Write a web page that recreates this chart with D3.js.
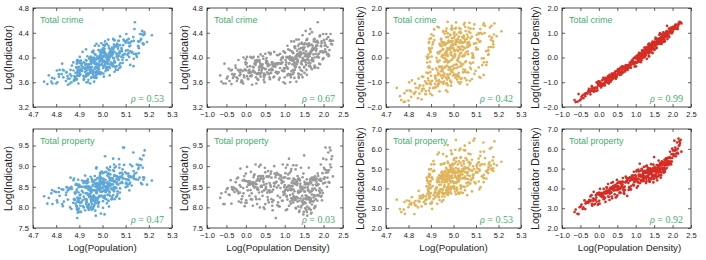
<!DOCTYPE html>
<html>
<head>
<meta charset="utf-8"/>
<title>Crime scaling scatter</title>
<style>
  body { margin: 0; background: #fff; }
  svg text { font-family: "Liberation Sans", Arial, Helvetica, sans-serif; }
</style>
</head>
<body>
<svg id="chart" width="706" height="260"></svg>
<script src="https://cdn.jsdelivr.net/npm/d3@7"></script>
<script>
// one entry per city, ordered by density band
const logDensity = [
  -0.66,-0.58,-0.63,-0.52,-0.47,-0.55,-0.42,-0.49,-0.39,-0.44,
  -0.37,-0.33,-0.29,-0.35,-0.24,-0.31,-0.27,-0.23,-0.36,-0.26,
  -0.21,-0.12,-0.18,-0.15,-0.20,-0.11,-0.16,-0.13,-0.19,-0.14,
  -0.09,-0.03,-0.07,-0.01,-0.05,-0.08,-0.02,-0.06,-0.04,0.00,
  0.01,0.05,0.03,0.07,0.02,0.06,0.00,0.04,0.08,0.03,
  0.09,0.13,0.11,0.15,0.08,0.12,0.14,0.10,0.13,0.11,
  0.16,0.20,0.18,0.21,0.15,0.19,0.17,0.22,0.18,0.20,
  0.23,0.27,0.25,0.29,0.22,0.26,0.28,0.24,0.27,0.25,
  0.30,0.34,0.32,0.29,0.33,0.31,0.35,0.30,0.34,0.32,
  0.36,0.40,0.38,0.41,0.35,0.39,0.37,0.40,0.36,0.38,
  0.42,0.46,0.44,0.47,0.41,0.45,0.43,0.46,0.44,0.42,
  0.48,0.52,0.50,0.54,0.47,0.51,0.53,0.49,0.52,0.50,
  0.55,0.59,0.57,0.61,0.54,0.58,0.60,0.56,0.59,0.57,
  0.62,0.66,0.64,0.68,0.61,0.65,0.67,0.63,0.66,0.64,
  0.69,0.73,0.71,0.75,0.68,0.72,0.74,0.70,0.76,0.73,
  0.77,0.81,0.79,0.83,0.76,0.80,0.82,0.78,0.84,0.80,
  0.85,0.89,0.87,0.91,0.84,0.88,0.90,0.86,0.92,0.88,
  0.93,0.97,0.95,0.99,0.92,0.96,0.98,0.94,0.97,0.95,
  1.00,1.03,1.01,1.05,0.99,1.02,1.04,1.00,1.03,1.01,
  1.06,1.09,1.07,1.10,1.05,1.08,1.09,1.06,1.08,1.07,
  1.11,1.14,1.12,1.15,1.10,1.13,1.14,1.11,1.13,1.12,
  1.16,1.19,1.17,1.20,1.15,1.18,1.19,1.16,1.18,1.17,
  1.21,1.23,1.22,1.24,1.20,1.22,1.23,1.21,1.24,1.22,
  1.25,1.27,1.26,1.28,1.24,1.26,1.27,1.25,1.28,1.26,
  1.29,1.31,1.30,1.32,1.28,1.30,1.31,1.29,1.32,1.30,
  1.33,1.35,1.34,1.36,1.32,1.34,1.35,1.33,1.36,1.34,
  1.37,1.39,1.38,1.40,1.36,1.38,1.39,1.37,1.40,1.38,
  1.41,1.43,1.42,1.44,1.40,1.42,1.43,1.41,1.44,1.42,
  1.45,1.47,1.46,1.48,1.44,1.46,1.47,1.45,1.48,1.46,
  1.49,1.51,1.50,1.52,1.48,1.50,1.51,1.49,1.52,1.50,
  1.53,1.55,1.54,1.56,1.52,1.54,1.55,1.53,1.56,1.54,
  1.57,1.59,1.58,1.60,1.56,1.58,1.59,1.57,1.60,1.58,
  1.61,1.63,1.62,1.64,1.60,1.62,1.63,1.61,1.64,1.62,
  1.65,1.67,1.66,1.68,1.64,1.66,1.67,1.65,1.68,1.66,
  1.69,1.71,1.70,1.72,1.68,1.70,1.71,1.69,1.72,1.70,
  1.73,1.76,1.74,1.77,1.72,1.75,1.76,1.73,1.77,1.75,
  1.78,1.81,1.79,1.82,1.77,1.80,1.81,1.78,1.82,1.80,
  1.83,1.86,1.84,1.88,1.82,1.85,1.87,1.84,1.86,1.85,
  1.89,1.93,1.91,1.95,1.88,1.92,1.94,1.90,1.93,1.91,
  1.96,2.00,1.98,2.02,1.95,1.99,2.01,1.97,2.03,1.99,
  2.04,2.09,2.06,2.11,2.03,2.08,2.10,2.05,2.12,2.07,
  2.13,2.19,2.15,2.22,2.14,2.17,2.20,2.16,2.24,2.18
];

const logPopulation = [
  4.768,4.784,4.779,4.800,4.812,4.826,4.842,4.858,4.875,4.905,
  4.762,4.782,4.811,4.824,4.831,4.849,4.868,4.877,4.897,4.938,
  4.792,4.805,4.833,4.844,4.862,4.877,4.891,4.911,4.928,4.973,
  4.748,4.829,4.859,4.874,4.895,4.912,4.929,4.948,4.967,5.028,
  4.803,4.850,4.866,4.884,4.902,4.920,4.934,4.955,4.975,5.033,
  4.815,4.879,4.899,4.918,4.932,4.950,4.968,4.989,5.016,5.061,
  4.851,4.887,4.904,4.925,4.935,4.958,4.978,4.990,5.021,5.082,
  4.845,4.896,4.919,4.935,4.950,4.970,4.988,5.008,5.036,5.073,
  4.889,4.917,4.939,4.955,4.972,4.986,5.006,5.025,5.058,5.115,
  4.860,4.900,4.920,4.944,4.960,4.978,4.998,5.016,5.050,5.093,
  4.888,4.919,4.937,4.959,4.976,4.990,5.011,5.031,5.062,5.120,
  4.866,4.907,4.929,4.949,4.967,4.985,4.999,5.019,5.051,5.098,
  4.897,4.932,4.951,4.973,4.988,5.004,5.023,5.042,5.074,5.134,
  4.880,4.923,4.944,4.964,4.978,4.996,5.014,5.035,5.066,5.112,
  4.894,4.928,4.952,4.971,4.985,5.005,5.023,5.044,5.078,5.128,
  4.891,4.939,4.961,4.979,4.995,5.013,5.033,5.052,5.087,5.146,
  4.887,4.927,4.951,4.966,4.986,5.003,5.022,5.042,5.077,5.135,
  4.896,4.937,4.960,4.975,4.993,5.013,5.031,5.051,5.084,5.148,
  4.883,4.925,4.947,4.964,4.982,5.000,5.020,5.039,5.073,5.126,
  4.890,4.938,4.960,4.978,4.996,5.016,5.034,5.055,5.089,5.154,
  4.889,4.931,4.952,4.971,4.988,5.006,5.026,5.046,5.083,5.135,
  4.884,4.931,4.953,4.973,4.991,5.008,5.029,5.050,5.086,5.154,
  4.903,4.947,4.968,4.987,5.006,5.023,5.043,5.065,5.101,5.156,
  4.881,4.930,4.952,4.972,4.990,5.008,5.028,5.050,5.087,5.154,
  4.898,4.942,4.964,4.984,5.002,5.020,5.041,5.063,5.101,5.166,
  4.891,4.933,4.954,4.974,4.992,5.010,5.031,5.054,5.091,5.145,
  4.897,4.948,4.969,4.988,5.006,5.026,5.045,5.067,5.108,5.177,
  4.893,4.939,4.960,4.979,4.997,5.017,5.038,5.060,5.100,5.157,
  4.896,4.942,4.963,4.982,5.000,5.020,5.041,5.063,5.104,5.176,
  4.907,4.951,4.972,4.991,5.009,5.029,5.050,5.073,5.115,5.177,
  4.890,4.941,4.962,4.981,4.999,5.019,5.040,5.062,5.106,5.171,
  4.904,4.950,4.971,4.990,5.008,5.028,5.049,5.072,5.116,5.166,
  4.892,4.938,4.959,4.978,4.996,5.016,5.037,5.059,5.103,5.174,
  4.909,4.953,4.974,4.993,5.011,5.031,5.052,5.075,5.119,5.138,
  4.893,4.944,4.965,4.984,5.002,5.022,5.043,5.065,5.109,5.180,
  4.900,4.947,4.968,4.987,5.005,5.025,5.046,5.069,5.113,5.160,
  4.915,4.961,4.982,5.001,5.019,5.039,5.060,5.082,5.126,5.192,
  4.902,4.946,4.967,4.986,5.004,5.024,5.045,5.068,5.112,5.140,
  4.911,4.955,4.976,4.995,5.013,5.033,5.054,5.076,5.120,5.213,
  4.914,4.954,4.974,4.993,5.011,5.031,5.052,5.075,5.119,5.162,
  4.929,4.969,4.989,5.008,5.026,5.046,5.067,5.089,5.133,5.169,
  4.935,4.974,4.992,5.011,5.031,5.050,5.071,5.093,5.135,5.182
];

const logCrime = [
  3.71,3.58,3.61,3.58,3.69,3.90,3.62,3.66,3.79,3.82,
  3.57,3.67,3.73,3.73,3.68,3.70,3.87,3.62,3.80,3.83,
  3.66,3.60,3.79,3.76,3.80,3.63,3.71,3.80,3.96,3.73,
  3.61,3.80,3.58,3.92,3.71,3.78,3.81,4.00,3.68,3.97,
  3.79,3.66,3.70,3.75,3.91,3.65,3.89,3.85,3.77,4.01,
  3.80,3.70,3.70,3.70,3.79,4.01,3.76,3.75,4.00,3.86,
  3.56,3.84,3.78,3.77,3.71,3.79,3.99,3.76,3.85,4.01,
  3.76,3.58,3.92,3.73,3.90,3.68,3.74,3.95,3.92,3.88,
  3.65,3.84,3.64,3.96,3.75,3.74,3.93,3.95,3.80,4.01,
  3.73,3.76,3.69,3.80,3.96,3.75,3.90,3.85,3.86,4.05,
  3.84,3.64,3.83,3.74,3.83,3.98,3.89,3.71,4.02,3.88,
  3.60,3.91,3.72,3.94,3.68,3.81,3.99,3.82,3.95,4.06,
  3.76,3.73,3.90,3.68,3.94,3.74,3.80,3.88,4.08,3.86,
  3.65,3.82,3.75,3.92,3.88,3.75,3.92,4.05,3.80,4.07,
  3.80,3.69,3.68,3.89,3.89,3.86,3.90,3.86,3.85,4.09,
  3.76,3.74,3.76,3.76,3.88,3.91,3.89,3.77,4.04,4.04,
  3.64,3.90,3.67,3.90,3.76,3.83,3.96,3.91,3.91,4.06,
  3.79,3.60,3.99,3.78,3.99,3.78,3.83,3.92,4.10,4.01,
  3.68,3.88,3.58,4.00,3.82,3.96,3.92,4.08,3.83,4.08,
  3.84,3.73,3.71,3.73,4.01,3.82,4.13,3.84,4.00,4.19,
  3.90,3.60,3.91,3.71,4.00,4.02,3.96,3.99,4.12,3.98,
  3.68,3.95,3.78,3.89,3.73,4.10,4.00,3.99,3.96,4.26,
  3.73,3.76,3.95,3.93,4.09,3.80,3.89,3.99,4.26,4.07,
  3.67,3.84,3.80,3.98,3.96,3.86,4.15,4.17,3.91,4.18,
  3.85,3.89,3.61,3.98,4.01,3.98,4.03,4.02,4.11,4.29,
  3.94,3.74,3.95,3.67,4.05,4.19,4.03,3.92,4.29,4.06,
  3.73,4.01,3.84,4.03,3.69,4.06,4.08,4.14,4.04,4.22,
  3.80,3.72,4.08,3.89,4.09,3.91,4.06,4.06,4.24,4.15,
  3.78,3.98,3.68,4.12,3.94,3.99,4.16,4.22,3.96,4.36,
  3.95,3.75,3.84,3.96,4.14,3.85,4.16,4.07,4.23,4.21,
  3.95,3.88,3.92,3.80,4.02,4.22,4.10,4.06,4.28,4.43,
  3.72,3.97,3.97,4.01,4.02,4.03,4.21,4.03,4.18,4.30,
  3.91,3.86,3.95,4.02,4.06,4.04,4.03,4.20,4.38,4.23,
  3.87,3.84,3.91,4.09,4.07,4.06,4.09,4.20,4.10,4.46,
  3.96,3.99,3.81,4.19,4.11,3.95,4.13,4.21,4.12,4.41,
  3.94,3.84,4.05,3.87,4.15,4.29,4.13,3.96,4.30,4.26,
  3.84,4.11,3.84,4.14,4.00,4.06,4.18,4.15,4.26,4.25,
  4.01,3.83,4.19,4.00,4.20,4.02,4.06,4.27,4.24,4.57,
  3.90,4.09,3.89,4.23,4.06,4.10,4.18,4.34,4.19,4.36,
  4.09,3.99,3.97,4.09,4.26,4.08,4.28,4.10,4.24,4.38,
  4.13,4.05,4.09,4.06,4.19,4.30,4.17,4.20,4.33,4.38,
  4.02,4.22,4.12,4.21,4.04,4.28,4.27,4.27,4.27,4.38
];

const logProperty = [
  8.23,8.08,8.34,8.37,8.47,8.08,8.30,8.44,8.66,8.31,
  8.09,8.42,8.37,8.44,8.43,8.48,8.45,8.70,8.49,8.61,
  8.39,8.12,8.14,8.36,8.72,8.20,8.54,8.50,8.34,8.94,
  8.27,8.03,8.47,8.11,8.67,8.65,8.64,8.34,8.76,8.82,
  8.17,8.41,8.50,8.55,8.11,8.63,8.64,8.63,8.56,8.98,
  8.28,8.20,8.55,8.59,8.58,8.42,8.58,8.63,8.86,8.61,
  8.19,8.57,8.04,8.77,8.34,8.52,8.57,8.80,8.61,8.73,
  8.49,8.20,8.26,8.48,8.48,8.56,8.65,8.60,8.56,9.04,
  8.43,8.36,8.43,8.08,8.67,8.70,8.64,8.46,8.99,8.75,
  8.00,8.53,8.50,8.50,8.20,8.71,8.68,8.51,8.76,9.03,
  8.38,8.00,8.68,8.55,8.50,8.62,8.28,8.71,8.76,8.76,
  7.96,8.50,8.08,8.74,8.41,8.46,8.57,8.96,8.44,8.85,
  8.36,8.12,8.18,8.41,8.75,8.40,8.76,8.25,8.74,8.88,
  8.36,8.20,8.50,8.04,8.59,8.87,8.38,8.54,8.72,8.82,
  7.93,8.51,8.17,8.58,8.13,8.59,8.82,8.43,8.73,9.00,
  7.74,8.05,8.62,8.12,8.60,8.48,8.28,8.78,8.80,8.84,
  8.03,8.47,8.02,8.66,8.53,8.24,8.77,8.70,8.59,8.77,
  8.16,8.30,8.16,8.38,8.72,8.37,8.72,8.63,8.62,9.04,
  8.33,7.93,8.41,8.26,8.49,8.83,8.44,8.54,8.96,8.73,
  7.95,8.51,8.19,8.52,8.28,8.41,8.80,8.49,8.70,9.03,
  8.04,8.14,8.44,8.42,8.52,8.52,8.30,9.18,8.84,8.70,
  8.09,8.18,8.22,8.52,8.46,8.42,8.51,8.88,8.59,8.93,
  8.22,8.27,8.12,8.26,8.64,8.44,8.70,8.33,8.68,9.02,
  8.18,8.20,8.23,8.18,8.59,8.60,8.56,8.39,8.92,8.67,
  7.97,8.25,8.25,8.54,7.99,8.58,8.64,8.57,8.58,9.02,
  8.14,8.02,8.38,8.35,8.60,8.22,8.36,8.76,8.70,8.68,
  7.89,8.40,7.92,8.57,8.40,8.16,8.65,8.70,8.51,8.67,
  8.22,8.04,8.00,8.46,8.38,8.40,8.46,8.47,8.49,8.96,
  8.13,8.08,8.17,8.08,8.47,8.50,8.44,8.28,8.82,8.73,
  7.89,8.13,8.11,8.38,7.83,8.39,8.62,8.21,8.56,9.26,
  7.98,7.94,8.29,8.23,8.48,8.10,8.20,8.58,8.56,8.56,
  7.89,8.20,7.80,8.44,8.28,8.02,8.49,8.68,8.41,8.59,
  8.24,7.98,7.96,8.18,8.56,8.20,8.56,8.25,8.60,8.96,
  8.12,7.94,8.23,7.85,8.39,8.65,8.20,8.36,8.60,8.69,
  7.87,8.45,8.07,8.42,8.15,8.31,8.70,8.39,8.68,8.72,
  8.14,7.98,8.24,8.27,8.54,8.16,8.30,8.66,8.66,8.72,
  8.03,8.42,8.02,8.62,8.46,8.20,8.69,8.75,8.53,8.55,
  8.29,8.30,8.16,8.28,8.70,8.54,8.56,8.55,8.76,8.82,
  8.40,8.26,8.35,8.28,8.67,8.69,8.64,8.46,9.04,8.65,
  8.17,8.69,8.35,8.70,8.41,8.58,8.96,8.83,8.73,9.18,
  8.60,8.50,8.84,8.85,8.92,8.90,8.72,9.45,9.33,9.16,
  8.61,8.97,8.60,9.24,8.90,9.04,9.17,9.45,8.75,9.38
];

const rowTitles = ["Total crime", "Total property"];
const rhoCrime = [0.53, 0.67, 0.42, 0.99];
const rhoProperty = [0.47, 0.03, 0.53, 0.92];

const popTicks = [4.7, 4.8, 4.9, 5.0, 5.1, 5.2, 5.3];
const densTicks = [-1.0, -0.5, 0.0, 0.5, 1.0, 1.5, 2.0, 2.5];
const crimeTicks = [3.2, 3.6, 4.0, 4.4, 4.8];
const crimeDensTicks = [-2.0, -1.0, 0.0, 1.0, 2.0];
const propTicks = [7.5, 8.0, 8.5, 9.0, 9.5];
const propDensTicks = [2.0, 3.0, 4.0, 5.0, 6.0, 7.0];

// indicator density = indicator / area, area = population / density
const logArea = logPopulation.map((p, i) => p - logDensity[i]);
const crimeDensity = logCrime.map((c, i) => c - logArea[i]);
const propertyDensity = logProperty.map((c, i) => c - logArea[i]);

const svg = d3.select("#chart");
const cols = [[33, 172], [207, 343], [386, 521], [562, 691]];
const rows = [[8, 107], [129, 228]];
const ylabOffset = [-21, -19, -22.5, -23];
const colors = ["#5ea7d8", "#999999", "#e1b45c", "#d62d25"];
const green = "#3fae6c";
const fmt = d3.format(".1f");

const xSpecs = [
  { values: logPopulation, domain: [4.7, 5.3], ticks: popTicks, label: "Log(Population)" },
  { values: logDensity, domain: [-1.0, 2.5], ticks: densTicks, label: "Log(Population Density)" }
];
const ySpecs = [
  [
    { values: logCrime, domain: [3.2, 4.8], ticks: crimeTicks, label: "Log(Indicator)" },
    { values: crimeDensity, domain: [-2.0, 2.0], ticks: crimeDensTicks, label: "Log(Indicator Density)" }
  ],
  [
    { values: logProperty, domain: [7.5, 9.9], ticks: propTicks, label: "Log(Indicator)" },
    { values: propertyDensity, domain: [2.0, 7.0], ticks: propDensTicks, label: "Log(Indicator Density)" }
  ]
];
const rhos = [rhoCrime, rhoProperty];

function styleAxis(g) {
  g.select(".domain").remove();
  g.selectAll("line").attr("stroke", "#222").attr("stroke-width", 0.7);
  g.selectAll("text")
    .attr("fill", "#222")
    .style("font-size", "7.5px")
    .style("font-family", "'Liberation Sans', Arial, sans-serif");
}

function drawPanel(r, c) {
  const [x0, x1] = cols[c];
  const [y0, y1] = rows[r];
  const xs = xSpecs[c % 2];
  const ys = ySpecs[r][c < 2 ? 0 : 1];

  const x = d3.scaleLinear().domain(xs.domain).range([x0, x1]);
  const y = d3.scaleLinear().domain(ys.domain).range([y1, y0]);

  const g = svg.append("g");

  g.append("g").selectAll("circle")
    .data(xs.values.map((v, i) => [v, ys.values[i]]))
    .join("circle")
    .attr("cx", d => x(d[0]))
    .attr("cy", d => y(d[1]))
    .attr("r", 1.35)
    .attr("fill", colors[c]);

  g.append("g").attr("transform", `translate(0,${y1})`)
    .call(d3.axisBottom(x).tickValues(xs.ticks).tickFormat(fmt)
      .tickSizeInner(-3).tickSizeOuter(0).tickPadding(4.5))
    .call(styleAxis);
  g.append("g").attr("transform", `translate(0,${y0})`)
    .call(d3.axisTop(x).tickValues(xs.ticks).tickFormat(() => "")
      .tickSizeInner(-3).tickSizeOuter(0))
    .call(styleAxis);
  g.append("g").attr("transform", `translate(${x0},0)`)
    .call(d3.axisLeft(y).tickValues(ys.ticks).tickFormat(fmt)
      .tickSizeInner(-3).tickSizeOuter(0).tickPadding(4))
    .call(styleAxis);
  g.append("g").attr("transform", `translate(${x1},0)`)
    .call(d3.axisRight(y).tickValues(ys.ticks).tickFormat(() => "")
      .tickSizeInner(-3).tickSizeOuter(0))
    .call(styleAxis);

  g.append("rect")
    .attr("x", x0).attr("y", y0)
    .attr("width", x1 - x0).attr("height", y1 - y0)
    .attr("fill", "none").attr("stroke", "#222").attr("stroke-width", 0.8);

  g.append("text")
    .attr("x", x0 + 7).attr("y", y0 + 15)
    .attr("fill", green)
    .style("font-size", "9px")
    .text(rowTitles[r]);

  const rho = g.append("text")
    .attr("x", x1 - 8).attr("y", y1 - 5)
    .attr("text-anchor", "end")
    .attr("fill", green)
    .style("font-family", "'Liberation Serif', 'DejaVu Serif', serif")
    .style("font-size", "10px");
  rho.append("tspan").style("font-style", "italic").text("\u03c1");
  rho.append("tspan").text(" = " + rhos[r][c].toFixed(2));

  g.append("text")
    .attr("transform", `translate(${x0 + ylabOffset[c]},${(y0 + y1) / 2}) rotate(-90)`)
    .attr("text-anchor", "middle")
    .attr("fill", "#222")
    .style("font-size", "10.5px")
    .text(ys.label);

  if (r === 1) {
    g.append("text")
      .attr("x", (x0 + x1) / 2 + (c % 2 ? 3 : 0)).attr("y", 250.5)
      .attr("text-anchor", "middle")
      .attr("fill", "#222")
      .style("font-size", "9.7px")
      .text(xs.label);
  }
}

for (let r = 0; r < 2; r++) {
  for (let c = 0; c < 4; c++) drawPanel(r, c);
}
</script>
</body>
</html>
